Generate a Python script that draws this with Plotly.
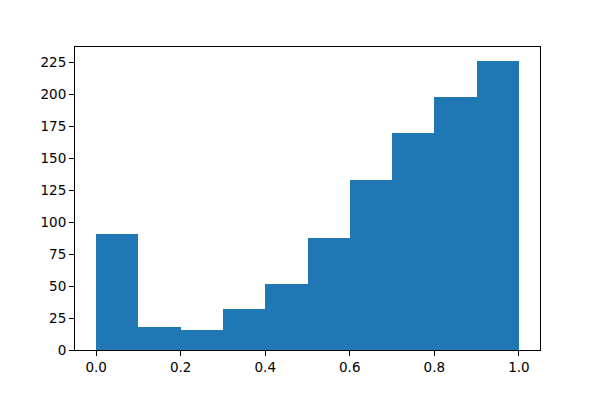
import plotly.graph_objects as go

bin_left = [0.0, 0.1, 0.2, 0.3, 0.4, 0.5, 0.6, 0.7, 0.8, 0.9]
bin_width = 0.1
counts = [91, 18, 16, 32, 52, 88, 133, 170, 198, 226]
x_ticks = [0.0, 0.2, 0.4, 0.6, 0.8, 1.0]
x_tick_labels = ["0.0", "0.2", "0.4", "0.6", "0.8", "1.0"]
y_ticks = [0, 25, 50, 75, 100, 125, 150, 175, 200, 225]

fig = go.Figure(go.Bar(
    x=[b + bin_width / 2 for b in bin_left],
    y=counts,
    width=[bin_width] * len(counts),
    marker=dict(color="#1f77b4", line=dict(width=0)),
))

axis_common = dict(
    showline=True, linecolor="black", linewidth=1.1, mirror=True,
    ticks="outside", ticklen=5, tickwidth=1.1, tickcolor="black",
    showgrid=False, zeroline=False,
    tickfont=dict(family="DejaVu Sans", size=13.5, color="black"),
)

# page body adds an 8px offset, so margins are compensated
fig.update_layout(
    width=600, height=400,
    margin=dict(l=67, r=68, t=39, b=58),
    plot_bgcolor="white", paper_bgcolor="white",
    showlegend=False, bargap=0,
    xaxis=dict(range=[-0.05, 1.05], tickvals=x_ticks, ticktext=x_tick_labels, **axis_common),
    yaxis=dict(range=[0, 237.3], tickvals=y_ticks, **axis_common),
)

fig.write_html("out.html")
